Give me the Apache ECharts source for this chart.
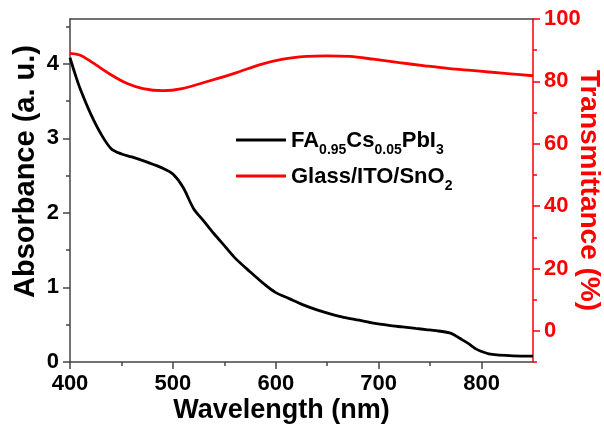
<!DOCTYPE html>
<html>
<head>
<meta charset="utf-8">
<script src="https://cdn.jsdelivr.net/npm/echarts@6/dist/echarts.min.js"></script>
<style>
html,body{margin:0;padding:0;background:#fff;}
#chart{width:604px;height:427px;}
</style>
</head>
<body>
<div id="chart"></div>
<script>
// Absorbance of FA0.95Cs0.05PbI3 film
var absWavelength = [400,405,410,420,430,440,450,460,475,490,500,510,520,530,540,550,560,575,590,600,613,626,640,652,666,681,695,710,723,736,746,756,769,775,781,788,794,800,807,815,827,838,850];
var absValue = [4.08,3.86,3.66,3.33,3.06,2.86,2.79,2.75,2.68,2.60,2.52,2.34,2.06,1.89,1.72,1.56,1.40,1.21,1.03,0.93,0.85,0.77,0.70,0.65,0.60,0.56,0.52,0.49,0.47,0.45,0.435,0.42,0.39,0.35,0.30,0.24,0.18,0.14,0.11,0.095,0.085,0.08,0.08];
// Transmittance of Glass/ITO/SnO2
var transWavelength = [400,410,422,439,455,471,490,509,536,562,584,607,630,649,672,695,720,745,769,790,807,828,850];
var transValue = [89.0,88.4,86.0,82.3,79.4,77.7,77.0,77.7,80.2,82.8,85.3,87.1,88.0,88.2,88.0,87.1,86.0,85.0,84.1,83.5,83.0,82.4,81.8];
// Axis ticks
var xMajorTicks = [400,500,600,700,800];
var xMinorTicks = [450,550,650,750];
var absMajorTicks = [0,1,2,3,4];
var absMinorTicks = [0.5,1.5,2.5,3.5,4.5];
var transMajorTicks = [0,20,40,60,80,100];
var transMinorTicks = [-10,10,30,50,70,90];

var seriesNames = ['FA0.95Cs0.05PbI3','Glass/ITO/SnO2'];

function pairs(xs, ys){ return xs.map(function(x,i){ return [x, ys[i]]; }); }

var FONT = '"Liberation Sans", Arial, sans-serif';
var AXIS_GRAY = '#444';
var RED = '#ff0000';

var chart = echarts.init(document.getElementById('chart'), null, {renderer:'canvas'});

var option = {
  backgroundColor: '#fff',
  animation: false,
  textStyle: {fontFamily: FONT},
  grid: {left: 70, right: 71, top: 19, bottom: 65, containLabel: false, outerBoundsMode: 'none'},
  legend: {
    orient: 'vertical',
    left: 231,
    top: 125,
    itemWidth: 50,
    itemHeight: 14,
    itemGap: 9,
    icon: 'path://M0,6 L50,6 L50,9 L0,9 Z',
    data: seriesNames,
    formatter: function(name){
      if (name === seriesNames[0]) {
        return '{b|FA}{s|0.95}{b|Cs}{s|0.05}{b|PbI}{s|3}';
      }
      return '{b|Glass/ITO/SnO}{s|2}';
    },
    textStyle: {
      rich: {
        b: {fontFamily: FONT, fontWeight: 'bold', fontSize: 22, color: '#000', lineHeight: 24, verticalAlign: 'bottom'},
        s: {fontFamily: FONT, fontWeight: 'bold', fontSize: 14, color: '#000', lineHeight: 14, verticalAlign: 'bottom', padding: [0,0,-5,0]}
      }
    }
  },
  xAxis: [
    {
      type: 'value', min: 400, max: 850, interval: 50, position: 'bottom',
      name: 'Wavelength (nm)', nameLocation: 'middle', nameGap: 35, nameMoveOverlap: false,
      nameTextStyle: {fontFamily: FONT, fontWeight: 'bold', fontSize: 27, color: '#000', padding: [0,40,0,0]},
      axisLine: {show: true, onZero: false, lineStyle: {color: AXIS_GRAY, width: 1.5}},
      axisTick: {show: true, customValues: xMajorTicks, length: 7, inside: false, lineStyle: {color: AXIS_GRAY, width: 1.5}},
      axisLabel: {customValues: xMajorTicks, fontFamily: FONT, fontWeight: 'bold', fontSize: 22, color: '#000', margin: 11},
      splitLine: {show: false}
    },
    {
      type: 'value', min: 400, max: 850, interval: 50, position: 'bottom',
      axisLine: {show: false, onZero: false},
      axisTick: {show: true, customValues: xMinorTicks, length: 4, inside: false, lineStyle: {color: AXIS_GRAY, width: 1.5}},
      axisLabel: {show: false},
      splitLine: {show: false}
    },
    {
      type: 'value', min: 400, max: 850, interval: 50, position: 'top',
      axisLine: {show: true, onZero: false, lineStyle: {color: AXIS_GRAY, width: 1.5}},
      axisTick: {show: false},
      axisLabel: {show: false},
      splitLine: {show: false}
    }
  ],
  yAxis: [
    {
      type: 'value', min: 0, max: 4.6, interval: 0.5, position: 'left',
      name: 'Absorbance (a. u.)', nameLocation: 'middle', nameGap: 30, nameMoveOverlap: false,
      nameTextStyle: {fontFamily: FONT, fontWeight: 'bold', fontSize: 29, color: '#000', padding: [0,0,0,38]},
      axisLine: {show: true, onZero: false, lineStyle: {color: AXIS_GRAY, width: 1.5}},
      axisTick: {show: true, customValues: absMajorTicks, length: 7, inside: false, lineStyle: {color: AXIS_GRAY, width: 1.5}},
      axisLabel: {customValues: absMajorTicks, fontFamily: FONT, fontWeight: 'bold', fontSize: 22, color: '#000', margin: 11},
      splitLine: {show: false}
    },
    {
      type: 'value', min: -10, max: 100, interval: 10, position: 'right',
      name: 'Transmittance (%)', nameLocation: 'middle', nameGap: 42, nameMoveOverlap: false,
      nameRotate: -90,
      nameTextStyle: {fontFamily: FONT, fontWeight: 'bold', fontSize: 28, color: RED},
      axisLine: {show: true, onZero: false, lineStyle: {color: RED, width: 1.5}},
      axisTick: {show: true, customValues: transMajorTicks, length: 7, inside: false, lineStyle: {color: RED, width: 1.5}},
      axisLabel: {customValues: transMajorTicks, fontFamily: FONT, fontWeight: 'bold', fontSize: 22, color: RED, margin: 11},
      splitLine: {show: false}
    },
    {
      type: 'value', min: 0, max: 4.6, interval: 0.5, position: 'left',
      axisLine: {show: false, onZero: false},
      axisTick: {show: true, customValues: absMinorTicks, length: 4, inside: false, lineStyle: {color: AXIS_GRAY, width: 1.5}},
      axisLabel: {show: false},
      splitLine: {show: false}
    },
    {
      type: 'value', min: -10, max: 100, interval: 10, position: 'right',
      axisLine: {show: false, onZero: false},
      axisTick: {show: true, customValues: transMinorTicks, length: 4, inside: false, lineStyle: {color: RED, width: 1.5}},
      axisLabel: {show: false},
      splitLine: {show: false}
    }
  ],
  series: [
    {
      name: seriesNames[0], type: 'line', xAxisIndex: 0, yAxisIndex: 0,
      data: pairs(absWavelength, absValue), smooth: 0.3, showSymbol: false, symbol: 'none',
      lineStyle: {color: '#000', width: 2.8}, itemStyle: {color: '#000'}, z: 3
    },
    {
      name: seriesNames[1], type: 'line', xAxisIndex: 0, yAxisIndex: 1,
      data: pairs(transWavelength, transValue), smooth: 0.3, showSymbol: false, symbol: 'none',
      lineStyle: {color: RED, width: 2.8}, itemStyle: {color: RED}, z: 3
    }
  ]
};
chart.setOption(option);
</script>
</body>
</html>
